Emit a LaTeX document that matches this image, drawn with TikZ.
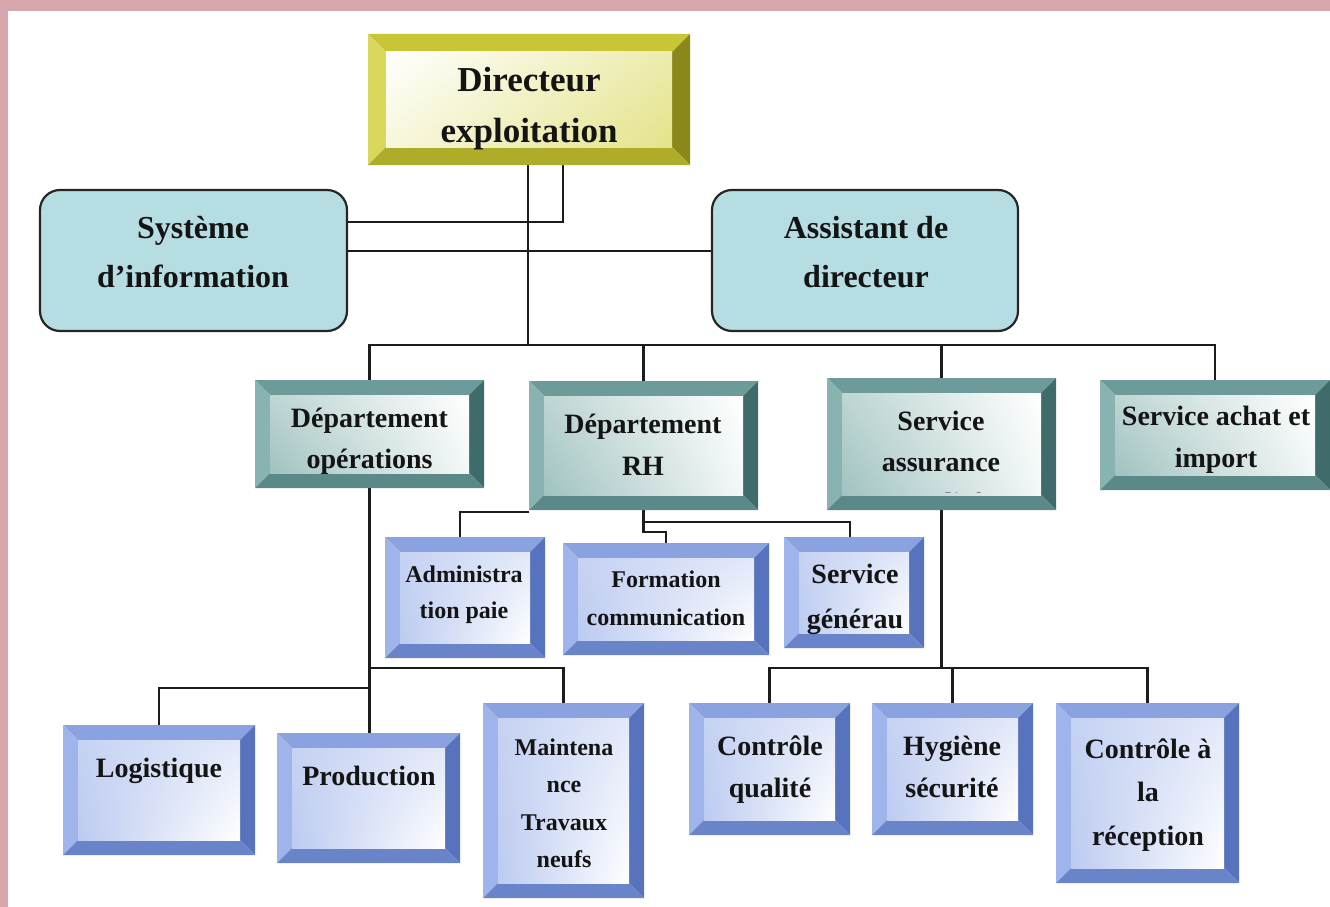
\documentclass[tikz,border=0pt]{standalone}
\usepackage{fontspec}
\setmainfont{Liberation Serif}
\usetikzlibrary{calc,shadings}

\pgfdeclarelayer{bg}
\pgfdeclarelayer{wires}
\pgfsetlayers{bg,wires,main}

\definecolor{pinkbg}{HTML}{D7A7AD}
\definecolor{linec}{HTML}{1C1C1C}
\definecolor{edgec}{HTML}{262626}
\definecolor{cyanfill}{HTML}{B6DDE2}
\definecolor{textc}{HTML}{141414}
% teal frames (second level)
\definecolor{tealT}{HTML}{6C9B99}
\definecolor{tealL}{HTML}{88B3B0}
\definecolor{tealR}{HTML}{3F6B6A}
\definecolor{tealB}{HTML}{5B8987}
% blue frames (lower levels)
\definecolor{blueT}{HTML}{8AA3E0}
\definecolor{blueL}{HTML}{9FB4EA}
\definecolor{blueR}{HTML}{5873BD}
\definecolor{blueB}{HTML}{6A84C9}
% olive-yellow frame (top)
\definecolor{yelT}{HTML}{C8C636}
\definecolor{yelL}{HTML}{D9D75C}
\definecolor{yelR}{HTML}{8A881A}
\definecolor{yelB}{HTML}{AEAC29}
\definecolor{yelIn}{HTML}{E4E38A}

% centred, possibly multi-line, bold label whose baseline is its first line
\newcommand{\orgtext}[4]{\parbox[t]{#1pt}{\centering\fontsize{#2pt}{#3pt}\selectfont\bfseries #4}}

\tikzset{
  wire/.style={draw=linec, line width=2.2pt},
  roundbox/.style={draw=edgec, line width=2.2pt, fill=cyanfill, rounded corners=20pt,
    inner sep=0pt, outer sep=0pt},
  txt/.style={inner sep=0pt, outer sep=0pt, text=textc, anchor=base},
  % bevelled frame: #1 width, #2 top, #3 left, #4 right, #5 bottom, #6 inner shading
  bevel/.style n args={6}{
    inner sep=0pt, outer sep=0pt,
    path picture={
      \path (path picture bounding box.north west) coordinate (pA)
            (path picture bounding box.north east) coordinate (pB)
            (path picture bounding box.south east) coordinate (pC)
            (path picture bounding box.south west) coordinate (pD);
      \path ([shift={(#1pt,-#1pt)}]pA) coordinate (qA)
            ([shift={(-#1pt,-#1pt)}]pB) coordinate (qB)
            ([shift={(-#1pt,#1pt)}]pC) coordinate (qC)
            ([shift={(#1pt,#1pt)}]pD) coordinate (qD);
      \fill[#2] (pA) -- (pB) -- (qB) -- (qA) -- cycle;
      \fill[#3] (pA) -- (qA) -- (qD) -- (pD) -- cycle;
      \fill[#4] (pB) -- (pC) -- (qC) -- (qB) -- cycle;
      \fill[#5] (pD) -- (qD) -- (qC) -- (pC) -- cycle;
      \shade[#6] (qA) rectangle (qC);
    }
  },
  yellowbox/.style={bevel={18}{yelT}{yelL}{yelR}{yelB}%
    {upper left=white, upper right=yelIn!70!white, lower left=yelIn!30!white, lower right=yelIn}},
  tealbox/.style={bevel={15}{tealT}{tealL}{tealR}{tealB}%
    {upper left=tealL!55!white, upper right=white, lower left=tealL!80!white, lower right=tealL!10!white}},
  bluebox/.style={bevel={15}{blueT}{blueL}{blueR}{blueB}%
    {upper left=blueL!60!white, upper right=blueL!30!white, lower left=blueL!70!white, lower right=white}},
}

\begin{document}
\begin{tikzpicture}[x=1pt, y=-1pt]
  \useasboundingbox (0,0) rectangle (1330,907);

  \begin{pgfonlayer}{bg}
    \fill[pinkbg] (0,0) rectangle (1330,907);
    \fill[white] (8,11) rectangle (1330,907);
  \end{pgfonlayer}

  % top
  \node[yellowbox, minimum width=322pt, minimum height=131pt] (dir) at (529,99.5) {};
  \node[roundbox, minimum width=307pt, minimum height=141pt] (sys) at (193.5,260.5) {};
  \node[roundbox, minimum width=306pt, minimum height=141pt] (asst) at (865,260.5) {};

  % second level
  \node[tealbox, minimum width=229pt, minimum height=108pt] (dops) at (369.5,434) {};
  \node[tealbox, minimum width=229pt, minimum height=129pt] (drh) at (643.5,445.5) {};
  \node[tealbox, minimum width=229pt, minimum height=132pt] (sqa) at (941.5,444) {};
  \node[tealbox, minimum width=230pt, minimum height=110pt] (sai) at (1215,435) {};

  % RH units
  \node[bluebox, minimum width=160pt, minimum height=121pt] (admin) at (465,597.5) {};
  \node[bluebox, minimum width=206pt, minimum height=112pt] (form) at (666,599) {};
  \node[bluebox, minimum width=140pt, minimum height=111pt] (sgen) at (854,592.5) {};

  % operations units
  \node[bluebox, minimum width=192pt, minimum height=130pt] (log) at (159,790) {};
  \node[bluebox, minimum width=183pt, minimum height=130pt] (prod) at (368.5,798) {};
  \node[bluebox, minimum width=161pt, minimum height=195pt] (maint) at (563.5,800.5) {};

  % quality units
  \node[bluebox, minimum width=161pt, minimum height=132pt] (cq) at (769.5,769) {};
  \node[bluebox, minimum width=161pt, minimum height=132pt] (hyg) at (952.5,769) {};
  \node[bluebox, minimum width=183pt, minimum height=180pt] (cr) at (1147.5,793) {};

  % labels
  \node[txt] (dir-t) at (529,92) {\orgtext{300}{35}{51}{Directeur\\exploitation}};
  \node[txt] (sys-t) at (193,238) {\orgtext{290}{32}{49}{Système\\d’information}};
  \node[txt] (asst-t) at (866,238) {\orgtext{290}{32}{49}{Assistant de\\directeur}};
  \node[txt] (dops-t) at (369.5,427) {\orgtext{220}{28}{41}{Département\\opérations}};
  \node[txt] (drh-t) at (643,433) {\orgtext{220}{28}{42}{Département\\RH}};
  % the third line runs into the lower frame: only its tallest strokes show
  \begin{scope}
    \clip ([shift={(15pt,-15pt)}]sqa.north west) rectangle ([shift={(-15pt,18pt)}]sqa.south east);
    \node[txt] (sqa-t) at (941,430) {\orgtext{220}{28}{41}{Service\\assurance\\qualité}};
  \end{scope}
  \node[txt] (sai-t) at (1216,425) {\orgtext{225}{28}{42}{Service achat et\\import}};
  \node[txt] (admin-t) at (464,582) {\orgtext{150}{24}{36}{Administra\\tion paie}};
  \node[txt] (form-t) at (666,587) {\orgtext{200}{24}{38}{Formation\\communication}};
  \node[txt] (sgen-t) at (855,583) {\orgtext{135}{28}{45}{Service\\générau}};
  \node[txt] (log-t) at (159,777) {\orgtext{185}{28}{42}{Logistique}};
  \node[txt] (prod-t) at (369,785) {\orgtext{180}{28}{42}{Production}};
  \node[txt] (maint-t) at (564,755) {\orgtext{155}{24}{37.5}{Maintena\\nce\\Travaux\\neufs}};
  \node[txt] (cq-t) at (770,755) {\orgtext{155}{28}{42}{Contrôle\\qualité}};
  \node[txt] (hyg-t) at (952,755) {\orgtext{155}{28}{42}{Hygiène\\sécurité}};
  \node[txt] (cr-t) at (1148,758) {\orgtext{180}{28}{43.5}{Contrôle à\\la\\réception}};

  % connectors
  \begin{pgfonlayer}{wires}
    \coordinate (bus) at (528,345);
    \coordinate (qbus) at (941.5,668);
    \draw[wire] (dir.south -| bus) -- (bus);
    \draw[wire] ([xshift=34pt]dir.south) |- (sys.east |- 0,222);
    \draw[wire] (sys.east |- 0,251) -- (asst.west |- 0,251);
    \draw[wire] (dops.north) |- (bus) -| (sai.north);
    \draw[wire] (drh.north) -- (drh.north |- bus);
    \draw[wire] (sqa.north) -- (sqa.north |- bus);
    % RH
    \draw[wire] ([yshift=-2pt]drh.south west) -| ([xshift=-5pt]admin.north);
    \draw[wire] (drh.south) -- ++(0,12) -| ([xshift=-4pt]sgen.north);
    \draw[wire] (drh.south) -- ++(0,22) -| (form.north);
    % operations
    \draw[wire] (dops.south) -- (dops.south |- prod.north);
    \draw[wire] (dops.south |- 0,688) -| (log.north);
    \draw[wire] (dops.south |- 0,668) -| (maint.north);
    % quality
    \draw[wire] (sqa.south) -- (qbus);
    \draw[wire] (cq.north) |- (qbus) -| (cr.north);
    \draw[wire] (hyg.north) -- (hyg.north |- qbus);
  \end{pgfonlayer}
\end{tikzpicture}
\end{document}
